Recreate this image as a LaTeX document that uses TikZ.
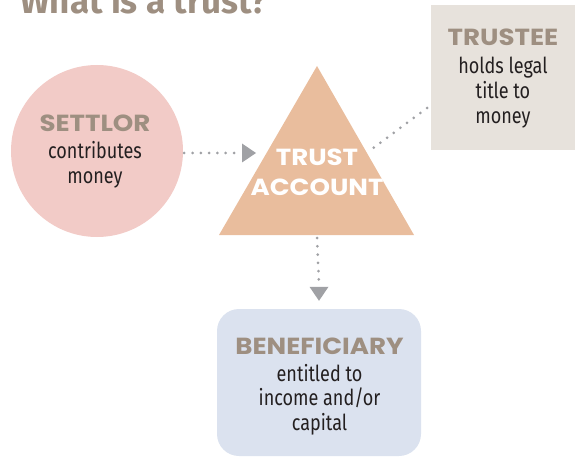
\documentclass[tikz,border=0pt]{standalone}
\usepackage{fontspec}
\setmainfont{Fira Sans}[FakeStretch=0.82]
\newfontfamily\headfont{Poppins}[FakeStretch=1.12]
\newfontfamily\titlefont{Fira Sans}

\definecolor{headbrown}{HTML}{9E8F81}
\definecolor{bodyink}{HTML}{231F20}
\definecolor{settlorpink}{HTML}{F2CBC7}
\definecolor{trustpeach}{HTML}{E9BD9D}
\definecolor{trusteegrey}{HTML}{E7E2DC}
\definecolor{benefblue}{HTML}{DBE2EF}
\definecolor{dotgrey}{HTML}{A0A1A5}

\begin{document}
\begin{tikzpicture}[x=1pt,y=-1pt,
  heading/.style={font=\headfont\bfseries\fontsize{23.3}{26}\selectfont, text=headbrown, inner sep=0, anchor=base},
  bodyline/.style={font=\fontsize{22}{24.5}\selectfont, text=bodyink, inner sep=0, anchor=base},
  dotline/.style={draw=dotgrey, line width=3pt, line cap=round, dash pattern=on 0pt off 8.3pt},
  arrowtip/.style={fill=dotgrey}
]
\useasboundingbox (0,0) rectangle (575,457);

% title, partly above the top edge
\node[font=\titlefont\bfseries\fontsize{35}{40}\selectfont, text=headbrown, inner sep=0, anchor=base west] (title) at (20,14) {What is a trust?};

% settlor
\node[circle, fill=settlorpink, minimum size=172pt, inner sep=0] (settlor) at (97,151) {};
\node[heading] (settlorhead) at (95,132) {SETTLOR};
\node[bodyline] (settlor1) at (95,159) {contributes};
\node[bodyline] (settlor2) at (95,183.5) {money};

% trust account
\coordinate (apex) at (317,66);
\coordinate (baseright) at (414,235);
\coordinate (baseleft) at (219,235);
\fill[trustpeach] (apex) -- (baseright) -- (baseleft) -- cycle;
\node[heading, text=white] (trust1) at (317,166) {TRUST};
\node[heading, text=white] (trust2) at (317,195) {ACCOUNT};

% trustee
\node[rectangle, fill=trusteegrey, minimum width=144pt, minimum height=145pt, inner sep=0] (trustee) at (503,77.5) {};
\node[heading] (trusteehead) at (503,45.7) {TRUSTEE};
\node[bodyline] (trustee1) at (503,74) {holds legal};
\node[bodyline] (trustee2) at (503,99) {title to};
\node[bodyline] (trustee3) at (503,124) {money};

% beneficiary
\node[rectangle, rounded corners=22pt, fill=benefblue, minimum width=204pt, minimum height=147pt, inner sep=0] (benef) at (319,382.5) {};
\node[heading] (benefhead) at (319.5,354) {BENEFICIARY};
\node[bodyline] (benef1) at (319.5,381) {entitled to};
\node[bodyline] (benef2) at (319.5,405.5) {income and/or};
\node[bodyline] (benef3) at (319.5,430) {capital};

% connectors: dotted runs with solid triangular heads
\coordinate (intoTrust) at (256,153);
\coordinate (trustBottom) at (317,238);
\coordinate (trusteeEnd) at (372,149);
\coordinate (trusteeStart) at (427,108);
\draw[dotline] ([xshift=1pt]settlor.east |- intoTrust) -- ([xshift=-22pt]intoTrust);
\fill[arrowtip] (intoTrust) -- ++(-14,-9.5) -- ++(0,19) -- cycle;
\draw[dotline] (trustBottom) -- ([yshift=24pt]benef.north);
\fill[arrowtip] ([yshift=8pt]benef.north) -- ++(-9.5,-14) -- ++(19,0) -- cycle;
\draw[dotline] (trusteeStart) -- (trusteeEnd);
\end{tikzpicture}
\end{document}
